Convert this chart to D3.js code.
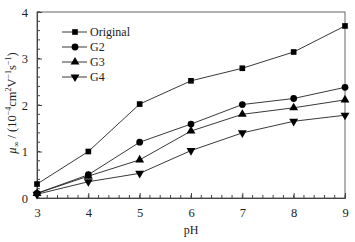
<!DOCTYPE html>
<html>
<head>
<meta charset="utf-8">
<script src="https://cdn.jsdelivr.net/npm/d3@7"></script>
<style>
body { margin: 0; background: #fff; }
text { font-family: "Liberation Serif", "DejaVu Serif", serif; fill: #222; }
</style>
</head>
<body>
<div id="graph"></div>
<script>
const svgw = 355
const svgh = 242

const phValues = [3, 4, 5, 6, 7, 8, 9]
const original = [0.3, 1.0, 2.02, 2.52, 2.79, 3.14, 3.70]
const g2 = [0.1, 0.5, 1.2, 1.59, 2.01, 2.14, 2.38]
const g3 = [0.1, 0.47, 0.82, 1.44, 1.80, 1.94, 2.11]
const g4 = [0.08, 0.35, 0.53, 1.02, 1.40, 1.65, 1.78]
const seriesNames = ['Original', 'G2', 'G3', 'G4']
const xTicks = [3, 4, 5, 6, 7, 8, 9]
const yTicks = [0, 1, 2, 3, 4]

const series = [original, g2, g3, g4]
const symbols = [d3.symbolSquare, d3.symbolCircle, d3.symbolTriangle, d3.symbolTriangle]
const symSize = [32, 36, 34, 34]
const rotate = [0, 0, 0, 180]

const mLeft = 37, mRight = 345, mTop = 12, mBottom = 198

const svg = d3.select('#graph')
    .append('svg')
    .attr('width', svgw)
    .attr('height', svgh)

const xScale = d3.scaleLinear().domain([3, 9]).range([mLeft, mRight])
const yScale = d3.scaleLinear().domain([0, 4]).range([mBottom, mTop])

// frame
svg.append('rect')
    .attr('x', mLeft).attr('y', mTop)
    .attr('width', mRight - mLeft).attr('height', mBottom - mTop)
    .attr('fill', 'none').attr('stroke', '#666').attr('stroke-width', 1)

// minor ticks (inside)
const xMinor = d3.range(3, 9.001, 0.2)
svg.append('g').selectAll('line').data(xMinor).enter().append('line')
    .attr('x1', d => xScale(d)).attr('x2', d => xScale(d))
    .attr('y1', mBottom).attr('y2', mBottom - 3)
    .attr('stroke', '#444')
const yMinor = d3.range(0, 4.001, 0.2)
svg.append('g').selectAll('line').data(yMinor).enter().append('line')
    .attr('x1', mLeft).attr('x2', mLeft + 3)
    .attr('y1', d => yScale(d)).attr('y2', d => yScale(d))
    .attr('stroke', '#444')

const xAxis = d3.axisBottom(xScale).tickValues(xTicks).tickFormat(d3.format('d')).tickSize(-5).tickPadding(10)
const yAxis = d3.axisLeft(yScale).tickValues(yTicks).tickFormat(d3.format('d')).tickSize(-5).tickPadding(9)

svg.append('g')
    .attr('transform', `translate(0,${mBottom})`)
    .call(xAxis)
    .call(g => g.select('.domain').attr('stroke', '#444'))
    .call(g => g.selectAll('.tick line').attr('stroke', '#444'))
    .call(g => g.selectAll('text').attr('font-size', 12.5))

svg.append('g')
    .attr('transform', `translate(${mLeft},0)`)
    .call(yAxis)
    .call(g => g.select('.domain').attr('stroke', '#444'))
    .call(g => g.selectAll('.tick line').attr('stroke', '#444'))
    .call(g => g.selectAll('text').attr('font-size', 12.5))

svg.append('text')
    .attr('x', (mLeft + mRight) / 2)
    .attr('y', 234)
    .attr('text-anchor', 'middle')
    .attr('font-size', 12)
    .text('pH')

// y label
const yl = svg.append('text')
    .attr('transform', `translate(16,${(mTop + mBottom) / 2 - 2}) rotate(-90)`)
    .attr('text-anchor', 'middle')
    .attr('font-size', 12.5)
yl.append('tspan').attr('font-style', 'italic').text('μ')
yl.append('tspan').attr('font-size', 8).attr('dy', 3).text('∞')
yl.append('tspan').attr('dy', -3).text(' / (10')
yl.append('tspan').attr('font-size', 8).attr('dy', -5).text('−4')
yl.append('tspan').attr('dy', 5).text('cm')
yl.append('tspan').attr('font-size', 8).attr('dy', -5).text('2')
yl.append('tspan').attr('dy', 5).text('V')
yl.append('tspan').attr('font-size', 8).attr('dy', -5).text('−1')
yl.append('tspan').attr('dy', 5).text('s')
yl.append('tspan').attr('font-size', 8).attr('dy', -5).text('−1')
yl.append('tspan').attr('dy', 5).text(')')

const line = d3.line()
    .x((d, i) => xScale(phValues[i]))
    .y(d => yScale(d))

series.forEach((s, k) => {
    svg.append('path')
        .datum(s)
        .attr('d', line)
        .attr('fill', 'none')
        .attr('stroke', '#222')
        .attr('stroke-width', 0.9)
    svg.append('g').selectAll('path').data(s).enter().append('path')
        .attr('d', d3.symbol().type(symbols[k]).size(symSize[k]))
        .attr('transform', (d, i) => `translate(${xScale(phValues[i])},${yScale(d)}) rotate(${rotate[k]})`)
        .attr('fill', '#000')
})

// legend
const legend = svg.append('g')
seriesNames.forEach((name, k) => {
    const ly = 32 + k * 15
    legend.append('line')
        .attr('x1', 62).attr('x2', 87)
        .attr('y1', ly).attr('y2', ly)
        .attr('stroke', '#222').attr('stroke-width', 0.9)
    legend.append('path')
        .attr('d', d3.symbol().type(symbols[k]).size(symSize[k]))
        .attr('transform', `translate(75,${ly}) rotate(${rotate[k]})`)
        .attr('fill', '#000')
    legend.append('text')
        .attr('x', 90).attr('y', ly + 4)
        .attr('font-size', 12)
        .text(name)
})
</script>
</body>
</html>
